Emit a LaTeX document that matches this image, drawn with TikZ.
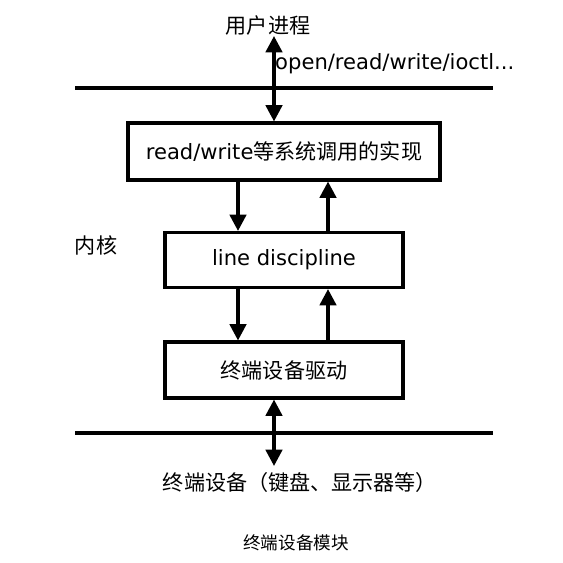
\documentclass[tikz,border=0pt]{standalone}
\usepackage{fontspec}
\setmainfont{DejaVu Sans}
\newfontfamily\cjk{Noto Sans CJK SC}
\usetikzlibrary{arrows.meta}
\tikzset{
  layer/.style={draw, line width=2.6pt, minimum width=7.14cm, minimum height=1.65cm, inner sep=0pt, font=\fontsize{18}{21}\selectfont},
  flow/.style={line width=3pt, -{Triangle[length=14pt,width=14pt]}},
  both/.style={line width=3pt, {Triangle[length=14pt,width=14pt]}-{Triangle[length=14pt,width=14pt]}},
  lbl/.style={inner sep=0pt, font=\fontsize{18}{21}\selectfont},
}
\begin{document}
\begin{tikzpicture}[x=0.03cm,y=-0.03cm]
      \useasboundingbox (0,0) rectangle (563,563);
      % user / kernel / device boundaries
      \draw[line width=3pt] (75,88) -- (493,88);
      \draw[line width=3pt] (75,433) -- (493,433);

      \node[lbl] (user) at (268,25) {\cjk 用户进程};
      \node[lbl, anchor=west] (calls) at (275,64) {open/read/write/ioctl...};
      \node[lbl] (kern) at (96,245) {\cjk 内核};

      \node[layer, minimum width=9.36cm, minimum height=1.71cm] (impl) at (284,151.5) {read/write{\cjk 等系统调用的实现}};
      \node[layer] (ldisc) at (284,260) {line discipline};
      \node[layer, minimum height=1.68cm] (drv) at (284,370) {\cjk 终端设备驱动};

      \node[lbl] (dev) at (300,482) {\cjk 终端设备（键盘、显示器等）};
      \node[lbl, font=\fontsize{15}{18}\selectfont] (cap) at (296,543) {\cjk 终端设备模块};

      \coordinate (top) at (274,36);
      \coordinate (bot) at (274,466);
      \coordinate (dn) at (238,0);
      \coordinate (up) at (328,0);

      \draw[both] (top) -- (top |- impl.north);
      \draw[flow] (impl.south -| dn) -- (ldisc.north -| dn);
      \draw[flow] (ldisc.north -| up) -- (impl.south -| up);
      \draw[flow] (ldisc.south -| dn) -- (drv.north -| dn);
      \draw[flow] (drv.north -| up) -- (ldisc.south -| up);
      \draw[both] (bot |- drv.south) -- (bot);

\end{tikzpicture}
\end{document}
